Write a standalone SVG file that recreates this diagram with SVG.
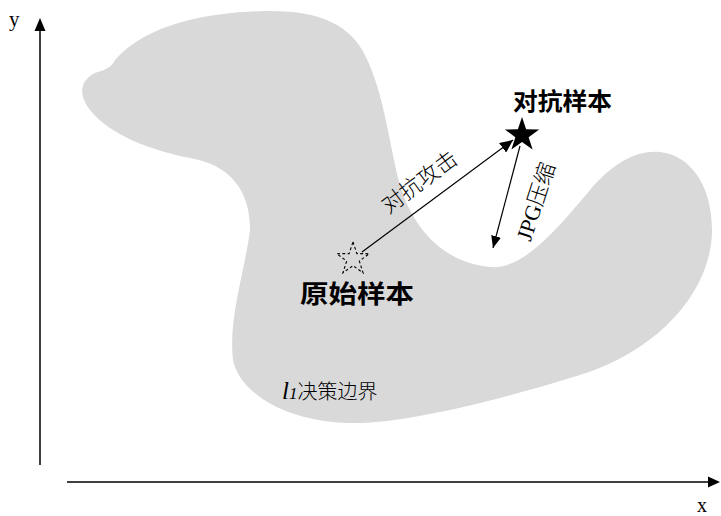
<svg xmlns="http://www.w3.org/2000/svg" width="721" height="516" viewBox="0 0 721 516">
<defs>
<style>
.axis{stroke:#000;stroke-width:1.5;fill:none}
.conn{stroke:#000;stroke-width:1.2;fill:none}
.lat{font-family:"Liberation Serif",serif;fill:#000}
.lbl{font-family:"Noto Sans CJK SC",sans-serif;font-weight:bold;fill:#000}
.thin{font-family:"Liberation Serif","Noto Sans CJK SC",serif;font-weight:300;fill:#000}
</style>
<marker id="ah" viewBox="0 0 12 10" refX="12" refY="5" markerWidth="12" markerHeight="10" markerUnits="userSpaceOnUse" orient="auto">
<path d="M0,0 L12,5 L0,10 Z" fill="#000"/>
</marker>
<marker id="ahBig" viewBox="0 0 13 12" refX="13" refY="6" markerWidth="13" markerHeight="12" markerUnits="userSpaceOnUse" orient="auto">
<path d="M0,0 L13,6 L0,12 Z" fill="#000"/>
</marker>
<path id="star" d="M0,-18 L4.11,-5.66 L17.12,-5.56 L6.66,2.16 L10.58,14.56 L0,7 L-10.58,14.56 L-6.66,2.16 L-17.12,-5.56 L-4.11,-5.66 Z"/>
</defs>
<rect width="721" height="516" fill="#fff"/>
<g id="boundary">
<path d="M115,60 C150,20 220,12 265,11 C320,10 350,25 365,55 C385,95 390,150 400,185 C412,225 440,262 490,267 C525,270 560,225 590,190 C615,160 640,150 660,152 C690,155 712,185 712,230 C712,290 660,350 580,375 C500,400 400,425 350,423 C290,422 240,395 233,360 C228,320 245,270 250,230 C250,190 230,165 190,158 C150,150 110,135 90,110 C78,95 80,80 95,73 C105,70 112,67 115,60 Z" fill="#d9d9d9"/>
<text class="thin" x="282" y="399" font-size="20"><tspan font-family="Liberation Serif" font-style="italic" font-size="25">l</tspan><tspan font-family="Liberation Serif" font-style="italic" font-size="17">1</tspan><tspan font-family="Noto Sans CJK SC" font-size="20">决策边界</tspan></text>
</g>
<g id="axes">
<line class="axis" x1="40" y1="465" x2="40" y2="31"/>
<path d="M34.5,31 L40,18 L45.5,31 Z" fill="#000"/>
<line class="axis" x1="67" y1="482" x2="708" y2="482"/>
<path d="M708,476.5 L720,482 L708,487.5 Z" fill="#000"/>
<text class="lat" x="9" y="26" font-size="21">y</text>
<text class="lat" x="697" y="512" font-size="20">x</text>
</g>
<g id="original">
<use href="#star" transform="translate(353,259) scale(0.95)" fill="none" stroke="#000" stroke-width="1.2" stroke-dasharray="3,2.5"/>
<text class="lbl" x="300" y="303" font-size="25" textLength="114" lengthAdjust="spacingAndGlyphs">原始样本</text>
</g>
<g id="adversarial">
<use href="#star" transform="translate(522,135)" fill="#000"/>
<text class="lbl" x="513" y="110" font-size="24" textLength="99" lengthAdjust="spacingAndGlyphs">对抗样本</text>
</g>
<g id="connectors">
<line class="conn" x1="362" y1="252" x2="513" y2="140" marker-end="url(#ahBig)"/>
<line class="conn" x1="520" y1="146" x2="493" y2="248" marker-end="url(#ah)"/>
<text class="thin" font-family="Noto Sans CJK SC" font-weight="300" font-size="22" text-anchor="middle" transform="translate(424,188) rotate(-36.5)">对抗攻击</text>
<text class="thin" font-size="22" text-anchor="middle" transform="translate(543,204) rotate(-72)"><tspan font-family="Liberation Serif">JPG</tspan><tspan font-family="Noto Sans CJK SC" font-weight="300">压缩</tspan></text>
</g>
</svg>
